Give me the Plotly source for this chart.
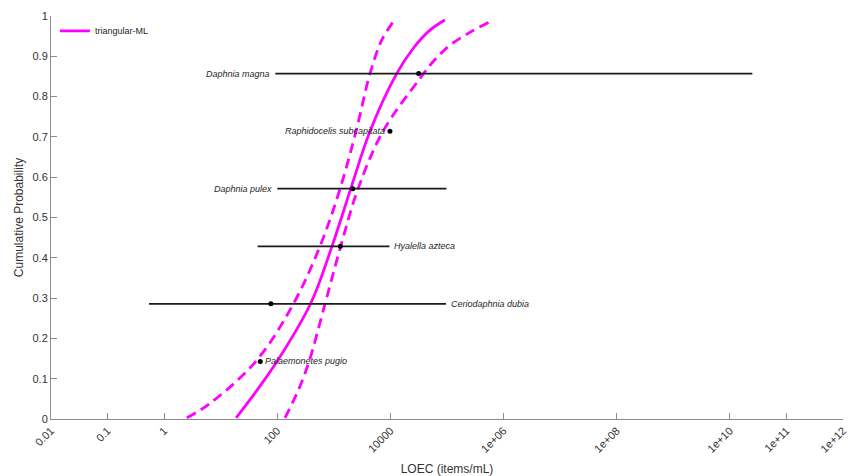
import numpy as np
import plotly.graph_objects as go

# ---- data ----
species = ["Palaemonetes pugio", "Ceriodaphnia dubia", "Hyalella azteca",
           "Daphnia pulex", "Raphidocelis subcapitata", "Daphnia magna"]
cum_prob = [1/7, 2/7, 3/7, 4/7, 5/7, 6/7]
loec = [50, 77, 1300, 2160, 9800, 31500]
loec_low = [None, 0.54, 45, 100, None, 92]
loec_high = [None, 96000, 9600, 98000, None, 2.5e10]

fit_x = [18.75, 44.1, 99.3, 387, 929, 1986, 4355, 12910, 25350, 50000, 92000]
fit_p = [0.003, 0.072, 0.143, 0.286, 0.429, 0.571, 0.714, 0.857, 0.920, 0.965, 0.990]

lower_x = [2.52, 6.50, 41.8, 193, 570, 1285, 2466, 4355, 7015, 11250]
lower_p = [0.003, 0.039, 0.143, 0.286, 0.429, 0.571, 0.714, 0.857, 0.940, 0.986]

upper_x = [137, 236, 365, 700, 1324, 2673, 7400, 33270, 57150, 105200, 237000, 574000]
upper_p = [0.003, 0.072, 0.143, 0.286, 0.429, 0.571, 0.714, 0.845, 0.887, 0.924, 0.957, 0.986]

x_tickvals = [0.01, 0.1, 1, 100, 10000, 1e6, 1e8, 1e10, 1e11, 1e12]
x_ticktext = ["0.01", "0.1", "1", "100", "10000", "1e+06", "1e+08", "1e+10", "1e+11", "1e+12"]
y_tickvals = [0, 0.1, 0.2, 0.3, 0.4, 0.5, 0.6, 0.7, 0.8, 0.9, 1]
y_ticktext = ["0", "0.1", "0.2", "0.3", "0.4", "0.5", "0.6", "0.7", "0.8", "0.9", "1"]

# label placement (style)
label_side = ["right", "right", "right", "left", "left", "left"]

MAG = "#FF00FF"
FONT = "Liberation Sans, Arial, sans-serif"

fig = go.Figure()

fig.add_trace(go.Scatter(x=fit_x, y=fit_p, mode="lines", name="triangular-ML",
                         line=dict(color=MAG, width=2.8, shape="spline"),
                         showlegend=True))
fig.add_trace(go.Scatter(x=lower_x, y=lower_p, mode="lines", showlegend=False,
                         line=dict(color=MAG, width=2.8, dash="10px,6px", shape="spline")))
fig.add_trace(go.Scatter(x=upper_x, y=upper_p, mode="lines", showlegend=False,
                         line=dict(color=MAG, width=2.8, dash="10px,6px", shape="spline")))

for i, sp in enumerate(species):
    if loec_low[i] is not None:
        fig.add_trace(go.Scatter(x=[loec_low[i], loec_high[i]], y=[cum_prob[i], cum_prob[i]],
                                 mode="lines", showlegend=False,
                                 line=dict(color="#1a1a1a", width=1.8)))
    fig.add_trace(go.Scatter(x=[loec[i]], y=[cum_prob[i]], mode="markers", showlegend=False,
                             marker=dict(color="black", size=5)))
    if label_side[i] == "left":
        ref = loec_low[i] if loec_low[i] is not None else loec[i]
        xa, shift = "right", -3
    else:
        ref = loec_high[i] if loec_high[i] is not None else loec[i]
        xa, shift = "left", 3
    fig.add_annotation(x=np.log10(ref), y=cum_prob[i], text="<i>%s</i>" % sp,
                       showarrow=False, xanchor=xa, yanchor="middle", xshift=shift,
                       font=dict(size=9, color="#262626", family=FONT))

fig.update_layout(
    width=851, height=476,
    margin=dict(l=51, r=8, t=16, b=57),
    plot_bgcolor="white", paper_bgcolor="white",
    font=dict(family=FONT, color="#333333"),
    legend=dict(x=0.005, y=0.999, xanchor="left", yanchor="top", bgcolor="rgba(0,0,0,0)",
                font=dict(size=9, color="#262626"), itemwidth=30),
    showlegend=True,
)
fig.update_xaxes(type="log", range=[-2, 12], tickvals=x_tickvals, ticktext=x_ticktext,
                 tickangle=-45, ticks="inside", ticklen=6, tickcolor="#8c8c8c",
                 showline=True, linecolor="#8c8c8c", linewidth=1, showgrid=False,
                 zeroline=False, automargin=False,
                 tickfont=dict(size=11, color="#333333"),
                 title=dict(text="LOEC (items/mL)", font=dict(size=12, color="#333333"),
                            standoff=28))
fig.update_yaxes(range=[0, 1], tickvals=y_tickvals, ticktext=y_ticktext,
                 ticks="inside", ticklen=6, tickcolor="#8c8c8c",
                 showline=True, linecolor="#8c8c8c", linewidth=1, showgrid=False,
                 zeroline=False, automargin=False,
                 tickfont=dict(size=11, color="#333333"),
                 title=dict(text="Cumulative Probability", font=dict(size=12, color="#333333"),
                            standoff=6))

fig.write_html("out.html")
